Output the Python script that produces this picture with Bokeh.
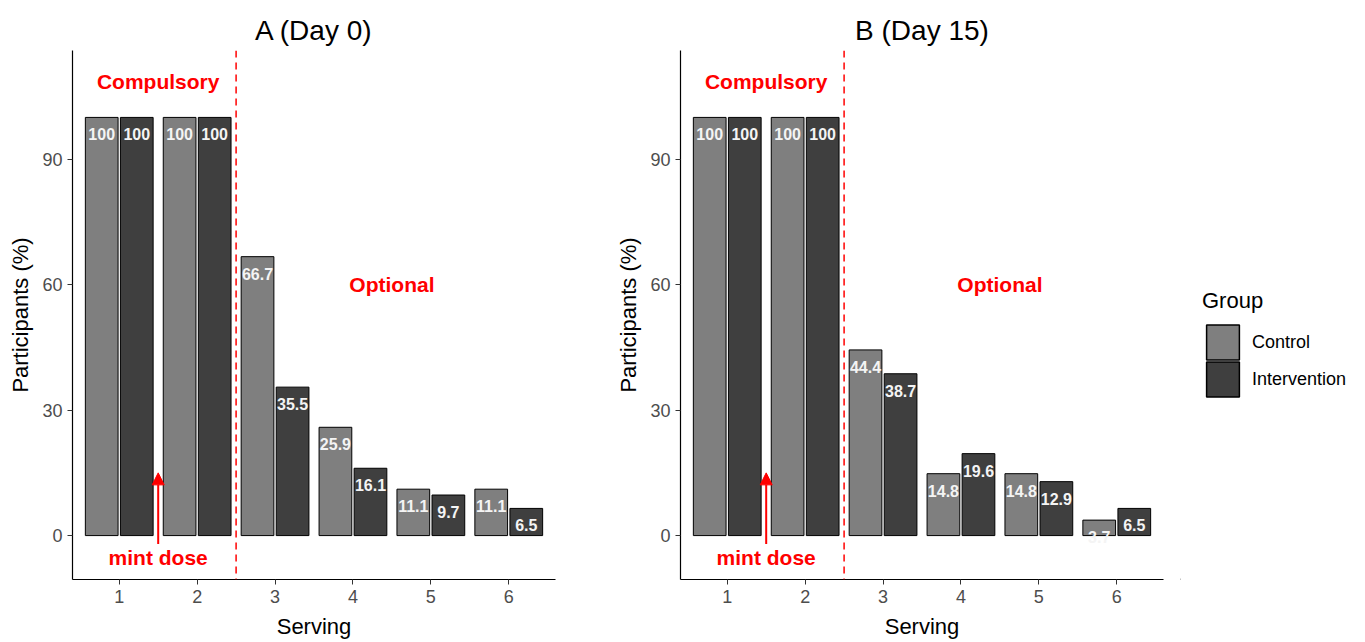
from bokeh.plotting import figure
from bokeh.models import (ColumnDataSource, Range1d, FixedTicker, Span, Label, Arrow,
                          NormalHead, Legend, LegendItem)
from bokeh.layouts import row
from bokeh.core.properties import value
from bokeh.embed import file_html
from bokeh.resources import INLINE

# ---------------- data ----------------
servings = [1, 2, 3, 4, 5, 6]
day0_control = [100, 100, 66.7, 25.9, 11.1, 11.1]
day0_intervention = [100, 100, 35.5, 16.1, 9.7, 6.5]
day15_control = [100, 100, 44.4, 14.8, 14.8, 3.7]
day15_intervention = [100, 100, 38.7, 19.6, 12.9, 6.5]
group_names = ["Control", "Intervention"]
panel_titles = ["A (Day 0)", "B (Day 15)"]
y_ticks = [0, 30, 60, 90]

# annotation positions (data units)
divider_x = 2.5
compulsory_pos = (1.5, 108.5)
optional_pos = (4.5, 60)
mint_text_pos = (1.5, -5.3)
mint_arrow = (1.5, -2, 15)

# ---------------- style ----------------
FONT = "Liberation Sans"
CONTROL_COLOR = "#7f7f7f"
INTERVENTION_COLOR = "#3f3f3f"
DODGE = 0.225
BAR_W = 0.42


def fmt(v):
    return f"{v:g}"


def build_panel(title, control, intervention, width, border_right):
    p = figure(width=width, height=642, x_range=Range1d(0.4, 6.6), y_range=Range1d(-10.5, 116),
               toolbar_location=None, output_backend="svg",
               min_border_left=72, min_border_right=border_right,
               min_border_top=50, min_border_bottom=63,
               x_axis_label="Serving", y_axis_label="Participants (%)")
    p.title.text = title
    p.title.align = "center"
    p.title.text_font = FONT
    p.title.text_font_size = "28px"
    p.title.text_font_style = "normal"
    p.title.text_color = "black"
    p.outline_line_color = None
    p.xgrid.visible = False
    p.ygrid.visible = False
    p.background_fill_color = "white"
    p.border_fill_color = "white"

    p.xaxis.ticker = FixedTicker(ticks=servings)
    p.yaxis.ticker = FixedTicker(ticks=y_ticks)
    for ax in (p.xaxis[0], p.yaxis[0]):
        ax.axis_line_color = "black"
        ax.axis_line_width = 1.2
        ax.major_tick_in = 0
        ax.major_tick_out = 5
        ax.major_tick_line_color = "#333333"
        ax.minor_tick_line_color = None
        ax.major_label_text_font = FONT
        ax.major_label_text_font_size = "18px"
        ax.major_label_text_color = "#4d4d4d"
        ax.major_label_standoff = 5
        ax.axis_label_text_font = FONT
        ax.axis_label_text_font_size = "22px"
        ax.axis_label_text_font_style = "normal"
        ax.axis_label_text_color = "black"
    p.xaxis[0].axis_label_standoff = 8
    p.yaxis[0].axis_label_standoff = 6

    src_c = ColumnDataSource(dict(x=[s - DODGE for s in servings], top=control,
                                  label=[fmt(v) for v in control]))
    src_i = ColumnDataSource(dict(x=[s + DODGE for s in servings], top=intervention,
                                  label=[fmt(v) for v in intervention]))
    for src, col in ((src_c, CONTROL_COLOR), (src_i, INTERVENTION_COLOR)):
        p.vbar(x="x", top="top", bottom=0, width=BAR_W, source=src,
               fill_color=col, line_color="black", line_width=1)
        p.text(x="x", y="top", text="label", source=src,
               text_font=value(FONT), text_font_style="bold", text_font_size="16px",
               text_color="#f4f4f4", text_align="center", text_baseline="middle",
               y_offset=17)

    p.add_layout(Span(location=divider_x, dimension="height", line_color="red",
                      line_dash="7 5", line_width=1.5))

    def red_label(pos, txt):
        p.add_layout(Label(x=pos[0], y=pos[1], text=txt, text_font=FONT,
                           text_font_size="21px", text_font_style="bold",
                           text_color="red", text_align="center",
                           text_baseline="middle"))

    red_label(compulsory_pos, "Compulsory")
    red_label(optional_pos, "Optional")
    red_label(mint_text_pos, "mint dose")
    p.add_layout(Arrow(end=NormalHead(size=12, fill_color="red", line_color="red", line_width=1),
                       x_start=mint_arrow[0], y_start=mint_arrow[1],
                       x_end=mint_arrow[0], y_end=mint_arrow[2],
                       line_color="red", line_width=2))
    return p


pA = build_panel(panel_titles[0], day0_control, day0_intervention, 608, 53)
pB = build_panel(panel_titles[1], day15_control, day15_intervention, 572, 17)

# ---------------- legend panel ----------------
pL = figure(width=185, height=642, x_range=Range1d(0, 1), y_range=Range1d(0, 1),
            toolbar_location=None, output_backend="svg", min_border=0)
pL.outline_line_color = None
pL.axis.visible = False
pL.xgrid.visible = False
pL.ygrid.visible = False
# key-only renderers (placed outside the visible range; used only for legend swatches)
rc = pL.vbar(x=[-5], top=[0], width=0.1, fill_color=CONTROL_COLOR, line_color="black", line_width=1.5)
ri = pL.vbar(x=[-5], top=[0], width=0.1, fill_color=INTERVENTION_COLOR, line_color="black", line_width=1.5)

common = dict(glyph_width=41, glyph_height=44, spacing=0, padding=0, margin=0,
              label_standoff=9, label_text_font=FONT, label_text_font_size="18px",
              label_text_color="black", label_height=44,
              border_line_color=None, background_fill_alpha=0)
legend1 = Legend(items=[LegendItem(label=group_names[0], renderers=[rc])],
                 title="Group", location=(22, 215),
                 title_text_font=FONT, title_text_font_size="22px",
                 title_text_font_style="normal", title_text_color="black",
                 title_standoff=6, **common)
legend2 = Legend(items=[LegendItem(label=group_names[1], renderers=[ri])],
                 location=(22, 178), **common)
pL.add_layout(legend1)
pL.add_layout(legend2)

layout = row(pA, pB, pL)
open("out.html", "w").write(file_html(layout, INLINE))
